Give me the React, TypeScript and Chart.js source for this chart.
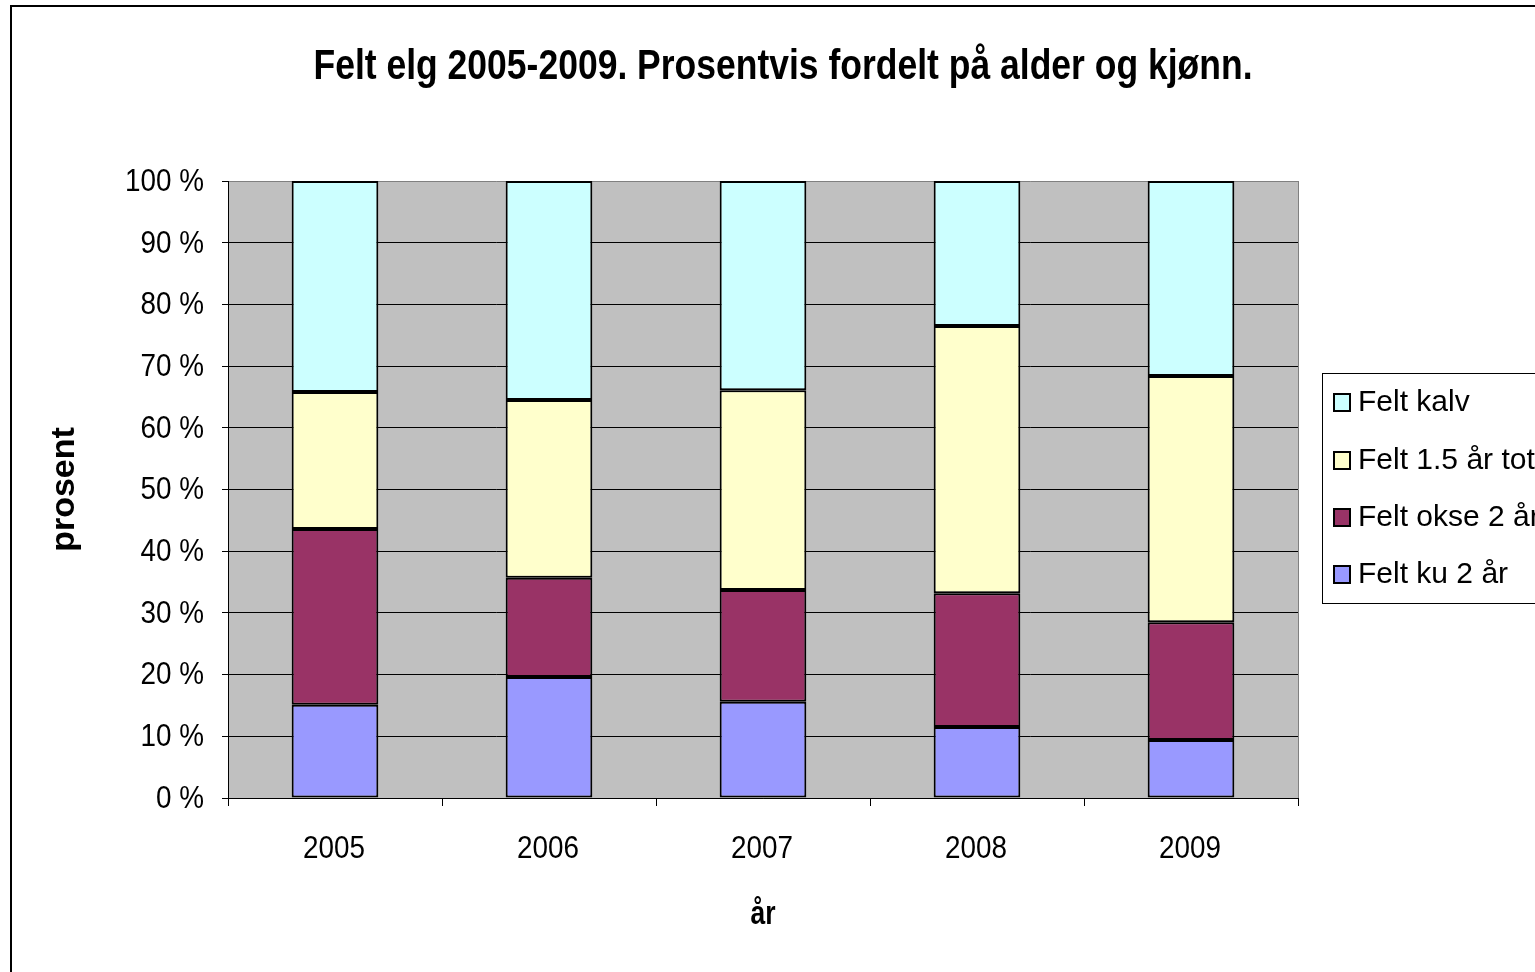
import React, { useEffect, useRef } from "react";
import { Chart, registerables } from "chart.js";

Chart.register(...registerables);

const categories = ["2005", "2006", "2007", "2008", "2009"];
const feltKu = [15.1, 19.6, 15.6, 11.5, 9.4];
const feltOkse = [28.5, 16.1, 18.1, 21.7, 19.1];
const feltUngdyr = [22.2, 28.8, 32.4, 43.3, 39.9];
const feltKalv = [34.2, 35.5, 33.9, 23.5, 31.6];
const seriesNames = ["Felt ku 2 år", "Felt okse 2 år", "Felt 1.5 år tot", "Felt kalv"];
const seriesColors = ["#9999FF", "#993366", "#FFFFCC", "#CCFFFF"];
const titleText = "Felt elg 2005-2009. Prosentvis fordelt på alder og kjønn.";
const yTitle = "prosent";
const xTitle = "år";

const SANS = '"Liberation Sans", Arial, sans-serif';

const CW = 1556;
const CH = 960;

function narrowText(ctx: any, text: string, x: number, y: number, sx: number, align: string) {
  const w = ctx.measureText(text).width * sx;
  let left = x;
  if (align === "center") left = x - w / 2;
  else if (align === "right") left = x - w;
  ctx.save();
  ctx.translate(left, y);
  ctx.scale(sx, 1);
  ctx.textAlign = "left";
  ctx.fillText(text, 0, 0);
  ctx.restore();
}

const decorPlugin = {
  id: "decor",
  beforeDraw(chart: any) {
    const { ctx, chartArea } = chart;
    ctx.save();
    ctx.fillStyle = "#ffffff";
    ctx.fillRect(0, 0, chart.width, chart.height);
    ctx.fillStyle = "#C0C0C0";
    ctx.fillRect(chartArea.left, chartArea.top, chartArea.right - chartArea.left, chartArea.bottom - chartArea.top);
    ctx.restore();
  },
  afterDraw(chart: any) {
    const { ctx, chartArea } = chart;
    ctx.save();
    // plot right border
    ctx.strokeStyle = "#808080";
    ctx.lineWidth = 1;
    ctx.beginPath();
    ctx.moveTo(chartArea.right + 0.5, chartArea.top);
    ctx.lineTo(chartArea.right + 0.5, chartArea.bottom);
    ctx.stroke();

    ctx.fillStyle = "#000";
    ctx.textBaseline = "middle";

    // title
    ctx.font = `bold 43px ${SANS}`;
    const tw = ctx.measureText(titleText).width;
    narrowText(ctx, titleText, 771, 60, 939 / tw, "center");

    // tick labels (Arial Narrow-like)
    ctx.font = `32px ${SANS}`;
    const xs = chart.scales.x;
    xs.ticks.forEach((t: any, i: number) => {
      narrowText(ctx, String(xs.getLabelForValue(t.value)), xs.getPixelForTick(i) - 1, 842, 0.87, "center");
    });
    const ys = chart.scales.y;
    ys.ticks.forEach((t: any) => {
      narrowText(ctx, `${t.value} %`, 192, ys.getPixelForValue(t.value) + 1, 0.87, "right");
    });

    // x axis title
    ctx.font = `bold 34px ${SANS}`;
    narrowText(ctx, xTitle, (chartArea.left + chartArea.right) / 2, 908, 0.78, "center");

    // legend
    const lx = 1310, ly = 366, lh = 230;
    ctx.fillStyle = "#fff";
    ctx.fillRect(lx, ly, chart.width - lx + 10, lh);
    ctx.strokeStyle = "#000";
    ctx.lineWidth = 1;
    ctx.strokeRect(lx + 0.5, ly + 0.5, chart.width - lx + 10, lh);
    const ds = chart.data.datasets;
    const rows = [395, 453, 510, 567];
    for (let i = 0; i < ds.length; i++) {
      const d = ds[ds.length - 1 - i];
      const cy = rows[i];
      ctx.fillStyle = d.backgroundColor;
      ctx.fillRect(1322, cy - 8, 16, 17);
      ctx.lineWidth = 2;
      ctx.strokeStyle = "#000";
      ctx.strokeRect(1322, cy - 8, 16, 17);
      ctx.fillStyle = "#000";
      ctx.font = `30px ${SANS}`;
      ctx.textAlign = "left";
      ctx.textBaseline = "middle";
      ctx.fillText(d.label, 1346, cy + 1);
    }
    ctx.restore();
  },
};

export default function App() {
  const ref = useRef<HTMLCanvasElement | null>(null);
  useEffect(() => {
    if (!ref.current) return;
    const values = [feltKu, feltOkse, feltUngdyr, feltKalv];
    const chart = new Chart(ref.current, {
      type: "bar",
      data: {
        labels: categories,
        datasets: values.map((v, i) => ({
          label: seriesNames[i],
          data: v,
          backgroundColor: seriesColors[i],
          borderColor: "#000",
          borderWidth: 2,
          borderSkipped: false as any,
          barPercentage: 0.405,
          categoryPercentage: 1,
        })),
      },
      options: {
        animation: false,
        responsive: false,
        devicePixelRatio: 1,
        layout: { padding: { top: 174, left: 0, right: 270, bottom: 0 } },
        plugins: {
          legend: { display: false },
          title: { display: false },
          tooltip: { enabled: false },
        },
        scales: {
          x: {
            stacked: true,
            afterFit: (s: any) => { s.height = CH - 791; },
            grid: { display: true, drawOnChartArea: false, drawTicks: true, tickLength: 8, color: "#000", offset: true },
            border: { display: true, color: "#000", width: 1 },
            ticks: { color: "rgba(0,0,0,0)", font: { family: SANS, size: 32 }, padding: 20, maxRotation: 0 },
            title: { display: false, text: xTitle },
          },
          y: {
            stacked: true,
            min: 0,
            max: 100,
            afterFit: (s: any) => { s.width = 216; },
            ticks: { stepSize: 10, color: "rgba(0,0,0,0)", font: { family: SANS, size: 32 }, padding: 18, callback: (v: any) => `${v} %` },
            grid: { color: (c: any) => (c.tick && c.tick.value === 100 ? "#808080" : "#000"), tickColor: "#000", lineWidth: 1, tickLength: 6 },
            border: { display: true, color: "#000", width: 1 },
            title: { display: true, text: yTitle, color: "#000", font: { family: SANS, size: 34, weight: "bold" }, padding: { top: 32, bottom: 0 } },
          },
        },
      },
      plugins: [decorPlugin],
    });
    return () => chart.destroy();
  }, []);

  return (
    <div style={{ position: "fixed", left: 0, top: 0, width: 1535, height: 972, overflow: "hidden", background: "#fff" }}>
      <div style={{ position: "absolute", left: 10, top: 5, width: 1600, height: 1000, border: "2px solid #000", boxSizing: "border-box", background: "#fff" }}>
        <canvas ref={ref} width={CW} height={CH} style={{ position: "absolute", left: 0, top: 0, width: CW, height: CH, display: "block" }} />
      </div>
    </div>
  );
}
